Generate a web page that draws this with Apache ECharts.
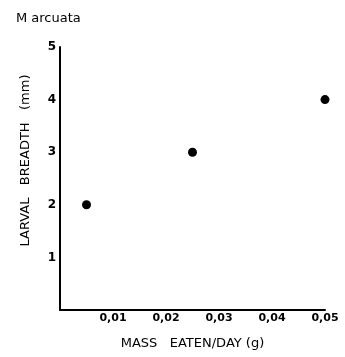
<!DOCTYPE html>
<html><head><meta charset="utf-8">
<script src="https://cdn.jsdelivr.net/npm/echarts@6/dist/echarts.min.js"></script>
<style>html,body{margin:0;padding:0;background:#fff}#c{width:345px;height:357px}</style>
</head><body><div id="c"></div>
<script>
var title = 'M arcuata';
var xName = 'MASS   EATEN/DAY (g)';
var yName = 'LARVAL   BREADTH   (mm)';
var massEaten = [0.005, 0.025, 0.05];
var larvalBreadth = [2, 3, 4];
var points = massEaten.map(function(x, i){ return [x, larvalBreadth[i]]; });
var chart = echarts.init(document.getElementById('c'));
var font = 'DejaVu Sans';
chart.setOption({
  backgroundColor: '#fff',
  animation: false,
  title: { text: title, left: 11, top: 7, textStyle: { fontFamily: font, fontSize: 13, fontWeight: 'normal', color: '#000' } },
  grid: { left: 60, right: 20, top: 47, bottom: 47 },
  xAxis: {
    type: 'value', min: 0, max: 0.05, interval: 0.01,
    name: xName, nameLocation: 'middle', nameGap: 27,
    nameTextStyle: { fontFamily: font, fontSize: 13, color: '#000' },
    axisLine: { lineStyle: { color: '#000', width: 2 } },
    axisTick: { show: false },
    splitLine: { show: false },
    axisLabel: { fontFamily: font, fontSize: 11, fontWeight: 'bold', color: '#000', margin: 3,
      formatter: function(v){ return v === 0 ? '' : v.toFixed(2).replace('.', ','); } }
  },
  yAxis: {
    type: 'value', min: 0, max: 5, interval: 1,
    name: yName, nameLocation: 'middle', nameGap: 28, nameRotate: 90,
    nameTextStyle: { fontFamily: font, fontSize: 13, color: '#000', padding: [0, 0, 0, 36] },
    axisLine: { show: true, lineStyle: { color: '#000', width: 2 } },
    axisTick: { show: false },
    splitLine: { show: false },
    axisLabel: { fontFamily: font, fontSize: 12, fontWeight: 'bold', color: '#000', margin: 4,
      formatter: function(v){ return v === 0 ? '' : String(v); } }
  },
  series: [{
    type: 'scatter', data: points, symbol: 'circle', symbolSize: 9,
    itemStyle: { color: '#000', opacity: 1 }
  }]
});
</script></body></html>
